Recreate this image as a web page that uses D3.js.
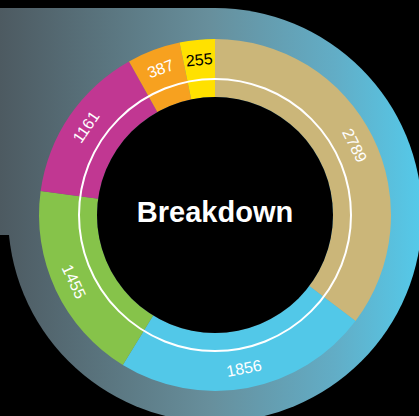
<!DOCTYPE html>
<html>
<head>
<meta charset="utf-8">
<script src="https://cdn.jsdelivr.net/npm/d3@7"></script>
<style>
  html, body { margin: 0; padding: 0; background: #000; }
  svg { display: block; }
</style>
</head>
<body>
<script>
'use strict';

const values = [2789, 1856, 1455, 1161, 387, 255];
const colors = ["#cbb679", "#52c8e8", "#86c34a", "#c13792", "#f7a11f", "#ffe100"];
const labelColors = ["#fff", "#fff", "#fff", "#fff", "#fff", "#000"];
const title = "Breakdown";

const width = 419, height = 416;
const cx = 215, cy = 215;

let svg = d3.select("body").append("svg")
    .attr("width", width)
    .attr("height", height)
    .style("background-color", "black");

let grad = svg.append("defs").append("linearGradient")
    .attr("id", "bg")
    .attr("gradientUnits", "userSpaceOnUse")
    .attr("x1", 0).attr("x2", width)
    .attr("y1", 0).attr("y2", 0);
grad.append("stop").attr("offset", 0).attr("stop-color", "#4d5a61");
grad.append("stop").attr("offset", 0.5).attr("stop-color", "#678f9c");
grad.append("stop").attr("offset", 0.8).attr("stop-color", "#62adc6");
grad.append("stop").attr("offset", 1).attr("stop-color", "#55c9e9");

// backdrop: box in top-left plus the big circle
svg.append("rect")
    .attr("x", 0).attr("y", 8)
    .attr("width", cx).attr("height", 227)
    .attr("fill", "url(#bg)");
svg.append("circle")
    .attr("cx", cx).attr("cy", cy)
    .attr("r", 207)
    .attr("fill", "url(#bg)");

let g = svg.append("g").attr("transform", `translate(${cx},${cy})`);

let pie = d3.pie().sort(null)(values);
let arc = d3.arc().innerRadius(118).outerRadius(176);

g.selectAll("path.slice")
    .data(pie)
    .join("path")
    .attr("class", "slice")
    .attr("d", arc)
    .attr("fill", (d, i) => colors[i]);

g.append("circle")
    .attr("r", 118)
    .attr("fill", "black");

g.append("circle")
    .attr("r", 136)
    .attr("fill", "none")
    .attr("stroke", "white")
    .attr("stroke-width", 2);

const labelR = 156;
g.selectAll("text.lbl")
    .data(pie)
    .join("text")
    .attr("class", "lbl")
    .attr("transform", d => {
        let a = (d.startAngle + d.endAngle) / 2;
        let deg = a * 180 / Math.PI;
        if (deg > 90 && deg < 270) deg -= 180;
        else if (deg >= 270) deg -= 360;
        let x = labelR * Math.sin(a), y = -labelR * Math.cos(a);
        return `translate(${x},${y}) rotate(${deg})`;
    })
    .attr("text-anchor", "middle")
    .attr("dominant-baseline", "central")
    .attr("font-family", "Liberation Sans, Arial, sans-serif")
    .attr("font-size", 16)
    .attr("fill", (d, i) => labelColors[i])
    .text(d => d.data);

g.append("text")
    .attr("x", 0).attr("y", 7)
    .attr("text-anchor", "middle")
    .attr("font-family", "Liberation Sans, Arial, sans-serif")
    .attr("font-weight", "bold")
    .attr("font-size", 29)
    .attr("fill", "white")
    .text(title);
</script>
</body>
</html>
